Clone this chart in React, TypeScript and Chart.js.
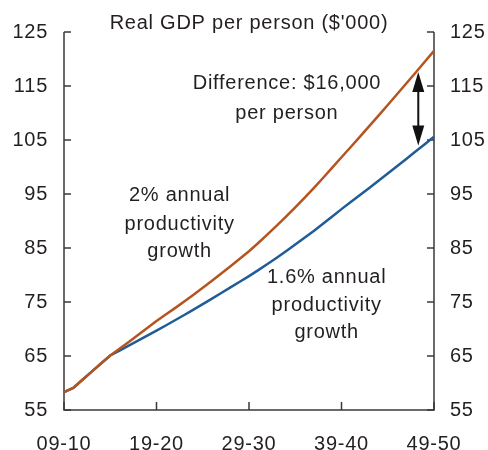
import React, { useEffect, useRef } from "react";
import { Chart, registerables } from "chart.js";

Chart.register(...registerables);

const periods = [
  "09-10", "10-11", "11-12", "12-13", "13-14", "14-15", "15-16", "16-17", "17-18", "18-19",
  "19-20", "20-21", "21-22", "22-23", "23-24", "24-25", "25-26", "26-27", "27-28", "28-29",
  "29-30", "30-31", "31-32", "32-33", "33-34", "34-35", "35-36", "36-37", "37-38", "38-39",
  "39-40", "40-41", "41-42", "42-43", "43-44", "44-45", "45-46", "46-47", "47-48", "48-49",
  "49-50",
];

const growth2pct = [
  58.3, 59.1, 60.6, 62.1, 63.6, 65.1, 66.34, 67.6, 68.88, 70.18,
  71.5, 72.67, 73.87, 75.1, 76.36, 77.64, 78.94, 80.27, 81.63, 83.01,
  84.4, 85.93, 87.51, 89.13, 90.8, 92.52, 94.29, 96.1, 97.96, 99.87,
  101.8, 103.7, 105.62, 107.56, 109.52, 111.49, 113.47, 115.46, 117.46, 119.48,
  121.5,
];

const growth16pct = [
  58.3, 59.1, 60.6, 62.1, 63.6, 65.1, 66.0, 66.91, 67.83, 68.76,
  69.7, 70.65, 71.62, 72.6, 73.6, 74.61, 75.63, 76.66, 77.7, 78.75,
  79.8, 80.9, 82.03, 83.2, 84.4, 85.63, 86.89, 88.17, 89.48, 90.82,
  92.2, 93.5, 94.81, 96.13, 97.46, 98.8, 100.15, 101.5, 102.86, 104.23,
  105.6,
];

const yTicks = [55, 65, 75, 85, 95, 105, 115, 125];
const xTickEvery = 10;

const titleText = "Real GDP per person ($'000)";
// annotations: x as period index, y as values (one per line)
const noteDiff = { x: 24.1, y: [115.4, 110.0], lines: ["Difference: $16,000", "per person"] };
const note2 = { x: 12.5, y: [94.8, 89.4, 84.3], lines: ["2% annual", "productivity", "growth"] };
const note16 = { x: 28.4, y: [79.6, 74.3, 69.3], lines: ["1.6% annual", "productivity", "growth"] };
const arrowSpec = { x: 38.3, top: 117.6, bottom: 104.0 };

const ORANGE = "#b5541e";
const BLUE = "#1f5c98";
const TEXT = "#231f20";
const AXIS = "#3a3a3a";
const FONT_FAMILY = "'Liberation Sans', Arial, sans-serif";
const FONT_SIZE = 20;
const LETTER_SPACING = "0.75px";

const decorPlugin = {
  id: "decor",
  beforeDraw(chart: any) {
    chart.ctx.letterSpacing = LETTER_SPACING;
  },
  beforeDatasetsDraw(chart: any) {
    const { ctx, chartArea, scales } = chart;
    const { left, right, bottom } = chartArea;
    const y = scales.y;
    const x = scales.x;
    ctx.save();
    ctx.strokeStyle = AXIS;
    ctx.lineWidth = 1.5;
    ctx.beginPath();
    ctx.moveTo(left, y.getPixelForValue(125));
    ctx.lineTo(left, bottom);
    ctx.lineTo(right, bottom);
    ctx.lineTo(right, y.getPixelForValue(125));
    ctx.stroke();
    ctx.beginPath();
    for (const v of yTicks) {
      const py = y.getPixelForValue(v);
      ctx.moveTo(left, py);
      ctx.lineTo(left + 7, py);
      ctx.moveTo(right, py);
      ctx.lineTo(right - 7, py);
    }
    for (let i = 0; i < periods.length; i += xTickEvery) {
      const px = x.getPixelForValue(i);
      ctx.moveTo(px, bottom);
      ctx.lineTo(px, bottom - 8);
    }
    ctx.stroke();
    ctx.restore();
  },
  afterDatasetsDraw(chart: any) {
    const { ctx, scales, chartArea } = chart;
    const x = scales.x;
    const y = scales.y;
    ctx.save();
    ctx.letterSpacing = LETTER_SPACING;
    ctx.fillStyle = TEXT;
    ctx.font = `${FONT_SIZE}px ${FONT_FAMILY}`;
    ctx.textAlign = "center";
    ctx.textBaseline = "middle";
    ctx.fillText(titleText, (chartArea.left + chartArea.right) / 2, chartArea.top - 9);
    for (const n of [noteDiff, note2, note16]) {
      n.lines.forEach((t, i) => {
        ctx.fillText(t, x.getPixelForValue(n.x), y.getPixelForValue(n.y[i]));
      });
    }
    // double-headed arrow
    const ax = x.getPixelForValue(arrowSpec.x);
    const at = y.getPixelForValue(arrowSpec.top);
    const ab = y.getPixelForValue(arrowSpec.bottom);
    const headL = 20;
    const headW = 6;
    ctx.strokeStyle = "#111";
    ctx.fillStyle = "#111";
    ctx.lineWidth = 2;
    ctx.beginPath();
    ctx.moveTo(ax, at + headL - 2);
    ctx.lineTo(ax, ab - headL + 2);
    ctx.stroke();
    ctx.beginPath();
    ctx.moveTo(ax, at);
    ctx.lineTo(ax - headW, at + headL);
    ctx.lineTo(ax + headW, at + headL);
    ctx.closePath();
    ctx.fill();
    ctx.beginPath();
    ctx.moveTo(ax, ab);
    ctx.lineTo(ax - headW, ab - headL);
    ctx.lineTo(ax + headW, ab - headL);
    ctx.closePath();
    ctx.fill();
    ctx.restore();
  },
};

export default function App() {
  const ref = useRef<HTMLCanvasElement>(null);
  useEffect(() => {
    document.body.style.margin = "0";
    const canvas = ref.current!;
    const font = { family: FONT_FAMILY, size: FONT_SIZE };
    const chart = new Chart(canvas, {
      type: "line",
      data: {
        labels: periods,
        datasets: [
          {
            label: "2% annual productivity growth",
            data: growth2pct,
            borderColor: ORANGE,
            borderWidth: 2.5,
            pointRadius: 0,
            tension: 0,
          },
          {
            label: "1.6% annual productivity growth",
            data: growth16pct,
            borderColor: BLUE,
            borderWidth: 2.5,
            pointRadius: 0,
            tension: 0,
          },
        ],
      },
      options: {
        animation: false,
        responsive: false,
        maintainAspectRatio: false,
        layout: { padding: { top: 32, left: 0, right: 0, bottom: 0 } },
        plugins: {
          legend: { display: false },
          tooltip: { enabled: false },
          title: { display: false },
        },
        scales: {
          x: {
            type: "category",
            offset: false,
            grid: { display: false, drawTicks: false },
            border: { display: false },
            ticks: {
              autoSkip: false,
              maxRotation: 0,
              minRotation: 0,
              padding: 22,
              color: TEXT,
              font,
              callback: (_v: any, i: number) => (i % xTickEvery === 0 ? periods[i] : null),
            },
            afterFit: (s: any) => {
              s.height = 40;
            },
          },
          y: {
            position: "left",
            min: 55,
            max: 125,
            grid: { display: false, drawTicks: false },
            border: { display: false },
            ticks: { stepSize: 10, padding: 16, color: TEXT, font },
            afterFit: (s: any) => {
              s.width = 64;
            },
          },
          y2: {
            position: "right",
            min: 55,
            max: 125,
            grid: { display: false, drawTicks: false },
            border: { display: false },
            ticks: { stepSize: 10, padding: 16, color: TEXT, font },
            afterFit: (s: any) => {
              s.width = 54;
            },
          },
        },
      },
      plugins: [decorPlugin],
    });
    return () => chart.destroy();
  }, []);
  return <canvas ref={ref} width={488} height={450} style={{ display: "block" }} />;
}
